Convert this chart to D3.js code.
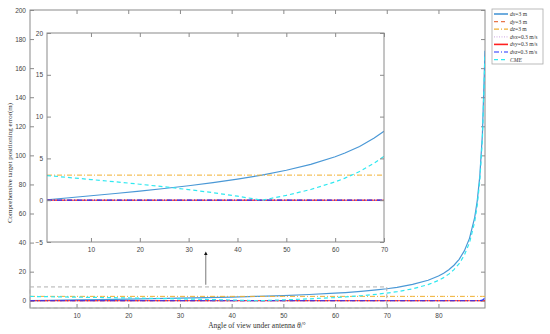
<!DOCTYPE html>
<html>
<head>
<meta charset="utf-8">
<script src="https://cdn.jsdelivr.net/npm/d3@7"></script>
<style>
  body { margin: 0; background: #fff; }
  svg text { font-family: "Liberation Sans", Arial, sans-serif; }
</style>
</head>
<body>
<div id="chart"></div>
<script>
var width  = 550;
var height = 334;

// ---------------- data ----------------
var angles = [1, 5, 10, 15, 20, 25, 30, 35, 40, 45, 50, 55, 60, 62, 65, 68, 70, 72, 75, 78, 80, 81, 82, 83, 84, 85, 86, 87, 87.5, 88, 88.5, 89];
var dxErr  = [0.05, 0.26, 0.53, 0.80, 1.09, 1.40, 1.73, 2.10, 2.52, 3.00, 3.58, 4.28, 5.20, 5.64, 6.43, 7.43, 8.24, 9.23, 11.2, 14.1, 17.0, 18.9, 21.3, 24.4, 28.5, 34.3, 42.9, 57.2, 68.7, 85.9, 114.6, 171.9];
var cmeErr = [2.95, 2.74, 2.47, 2.20, 1.91, 1.60, 1.27, 0.90, 0.48, 0.00, 0.58, 1.28, 2.20, 2.64, 3.43, 4.43, 5.24, 6.23, 8.2, 11.1, 14.0, 15.9, 18.3, 21.4, 25.5, 31.3, 39.9, 54.2, 65.7, 82.9, 111.6, 168.9];
var dyErr  = [0, 0, 0, 0, 0, 0, 0, 0, 0, 0, 0, 0, 0, 0, 0, 0, 0, 0, 0, 0, 0, 0, 0, 0, 0, 0, 0, 0, 0, 0, 0, 0];
var dzErr  = [3, 3, 3, 3, 3, 3, 3, 3, 3, 3, 3, 3, 3, 3, 3, 3, 3, 3, 3, 3, 3, 3, 3, 3, 3, 3, 3, 3, 3, 3, 3, 3];
var dvxErr = [0, 0, 0, 0, 0, 0, 0, 0, 0, 0, 0, 0, 0, 0, 0, 0, 0, 0, 0, 0, 0, 0, 0, 0, 0, 0, 0, 0, 0, 0, 0, 0];
var dvyErr = [0, 0, 0, 0, 0, 0, 0, 0, 0, 0, 0, 0, 0, 0, 0, 0, 0, 0, 0, 0, 0, 0, 0, 0, 0, 0, 0, 0, 0, 0, 0, 0];
var dvzErr = [0, 0, 0, 0, 0, 0, 0, 0, 0, 0, 0, 0, 0, 0, 0, 0, 0, 0, 0, 0, 0, 0, 0, 0, 0, 0, 0, 0, 0.05, 0.1, 0.4, 1.8];

var mainXTicks  = [10, 20, 30, 40, 50, 60, 70, 80];
var mainYTicks  = [0, 20, 40, 60, 80, 100, 120, 140, 160, 180, 200];
var insetXTicks = [10, 20, 30, 40, 50, 60, 70];
var insetYTicks = [-5, 0, 5, 10, 15, 20];
var zoomBox     = {x0: 1, x1: 70, y0: -5, y1: 9.5};

var series = [
  {v: "dx",  rest: "=3 m",     values: dxErr,  color: "#4a98d6", dash: null,      w: 1.2},
  {v: "dy",  rest: "=3 m",     values: dyErr,  color: "#e8764a", dash: "4,3",     w: 1.0},
  {v: "dz",  rest: "=3 m",     values: dzErr,  color: "#f0b030", dash: "5,2,1,2", w: 1.0},
  {v: "dvx", rest: "=0.3 m/s", values: dvxErr, color: "#d8b8e8", dash: "1,1.5",   w: 1.0},
  {v: "dvy", rest: "=0.3 m/s", values: dvyErr, color: "#ff2020", dash: null,      w: 1.0},
  {v: "dvz", rest: "=0.3 m/s", values: dvzErr, color: "#2030ff", dash: "5,2,1,2", w: 1.2},
  {v: "CME", rest: "",         values: cmeErr, color: "#30e8f0", dash: "4,3",     w: 1.2}
];

var axisColor  = "#8a8a8a";
var labelColor = "#444";

var svg = d3.select("#chart").append("svg")
    .attr("width", width)
    .attr("height", height);

// ---------------- main axes ----------------
var mLeft = 30, mRight = 485, mTop = 10, mBottom = 308;
var x = d3.scaleLinear().domain([1, 89]).range([mLeft, mRight]);
var y = d3.scaleLinear().domain([-5, 200]).range([mBottom, mTop]);

svg.append("clipPath").attr("id", "clipMain")
  .append("rect").attr("x", mLeft).attr("y", mTop)
    .attr("width", mRight - mLeft).attr("height", mBottom - mTop);

// box with inward ticks on all four sides, labels left and bottom
function drawBox(g, xs, ys, xt, yt, fs, yLabelOff, xLabelOff) {
  var r = xs.range(), d = ys.range();
  g.append("rect")
      .attr("x", r[0]).attr("y", d[1])
      .attr("width", r[1] - r[0]).attr("height", d[0] - d[1])
      .attr("fill", "none").attr("stroke", axisColor).attr("stroke-width", 1);
  g.append("g").attr("transform", "translate(0," + d[0] + ")")
      .call(d3.axisBottom(xs).tickValues(xt).tickSizeInner(-4).tickSizeOuter(0).tickPadding(xLabelOff));
  g.append("g").attr("transform", "translate(0," + d[1] + ")")
      .call(d3.axisTop(xs).tickValues(xt).tickSizeInner(-4).tickSizeOuter(0).tickFormat(""));
  g.append("g").attr("transform", "translate(" + r[0] + ",0)")
      .call(d3.axisLeft(ys).tickValues(yt).tickSizeInner(-4).tickSizeOuter(0).tickPadding(yLabelOff));
  g.append("g").attr("transform", "translate(" + r[1] + ",0)")
      .call(d3.axisRight(ys).tickValues(yt).tickSizeInner(-4).tickSizeOuter(0).tickFormat(""));
  g.selectAll(".domain").remove();
  g.selectAll(".tick line").attr("stroke", axisColor);
  g.selectAll(".tick text").attr("fill", labelColor).style("font-size", fs + "px");
}

var gMain = svg.append("g");
drawBox(gMain, x, y, mainXTicks, mainYTicks, 6.5, 4, 5);

function drawLines(g, xs, ys, clip, xmax) {
  var line = d3.line()
      .x(function(d) { return xs(d[0]); })
      .y(function(d) { return ys(d[1]); });
  var gl = g.append("g").attr("clip-path", "url(#" + clip + ")");
  series.forEach(function(s) {
    var pts = angles.map(function(a, i) { return [a, s.values[i]]; })
                    .filter(function(p) { return p[0] <= xmax; });
    gl.append("path")
        .datum(pts)
        .attr("d", line)
        .attr("fill", "none")
        .attr("stroke", s.color)
        .attr("stroke-width", s.w)
        .attr("stroke-dasharray", s.dash);
  });
}

drawLines(gMain, x, y, "clipMain", 89);

// zoom rectangle (dashed grey)
gMain.append("rect")
    .attr("x", x(zoomBox.x0)).attr("y", y(zoomBox.y1))
    .attr("width", x(zoomBox.x1) - x(zoomBox.x0))
    .attr("height", y(zoomBox.y0) - y(zoomBox.y1))
    .attr("fill", "none")
    .attr("stroke", "#b0b0b0")
    .attr("stroke-width", 1)
    .attr("stroke-dasharray", "4,3");

// arrow towards the inset
svg.append("defs").append("marker")
    .attr("id", "arrowHead")
    .attr("viewBox", "0 0 10 10").attr("refX", 5).attr("refY", 5)
    .attr("markerWidth", 5).attr("markerHeight", 6).attr("orient", "auto")
  .append("path").attr("d", "M0,0 L10,5 L0,10 z").attr("fill", "#111");
gMain.append("line")
    .attr("x1", x(35)).attr("y1", y(11))
    .attr("x2", x(35)).attr("y2", y(32.5))
    .attr("stroke", "#555").attr("stroke-width", 0.8)
    .attr("marker-end", "url(#arrowHead)");

// axis titles
svg.append("text")
    .attr("transform", "translate(12," + ((mTop + mBottom) / 2 + 4) + ") rotate(-90)")
    .attr("text-anchor", "middle")
    .style("font-family", "'Liberation Serif', serif")
    .style("font-size", "7px")
    .attr("fill", "#333")
    .text("Comprehensive target positioning error(m)");

var xt = svg.append("text")
    .attr("x", 257).attr("y", 328)
    .attr("text-anchor", "middle")
    .style("font-family", "'Liberation Serif', serif")
    .style("font-size", "7.5px")
    .attr("fill", "#333");
xt.append("tspan").text("Angle of view under antenna ");
xt.append("tspan").style("font-style", "italic").text("θ");
xt.append("tspan").text("/°");

// ---------------- inset ----------------
var iLeft = 47, iRight = 384, iTop = 33, iBottom = 242;
var xi = d3.scaleLinear().domain([1, 70]).range([iLeft, iRight]);
var yi = d3.scaleLinear().domain([-5, 20]).range([iBottom, iTop]);

svg.append("clipPath").attr("id", "clipInset")
  .append("rect").attr("x", iLeft).attr("y", iTop)
    .attr("width", iRight - iLeft).attr("height", iBottom - iTop);

var gInset = svg.append("g");
gInset.append("rect")
    .attr("x", iLeft).attr("y", iTop)
    .attr("width", iRight - iLeft).attr("height", iBottom - iTop)
    .attr("fill", "#fff");
drawLines(gInset, xi, yi, "clipInset", 70);
drawBox(gInset, xi, yi, insetXTicks, insetYTicks, 6.5, 4, 5);

// ---------------- legend ----------------
var lgX = 492, lgY = 9, lgW = 51, lgH = 55, rowH = 7.6;
var gLegend = svg.append("g");
gLegend.append("rect")
    .attr("x", lgX).attr("y", lgY).attr("width", lgW).attr("height", lgH)
    .attr("fill", "#fff").attr("stroke", "#aaa").attr("stroke-width", 0.8);

series.forEach(function(s, i) {
  var cy = lgY + 5 + i * rowH;
  gLegend.append("line")
      .attr("x1", lgX + 2).attr("x2", lgX + 16)
      .attr("y1", cy).attr("y2", cy)
      .attr("stroke", s.color)
      .attr("stroke-width", s.v === "dx" || s.v === "dvy" ? 1.6 : 1.2)
      .attr("stroke-dasharray", s.dash);
  var t = gLegend.append("text")
      .attr("x", lgX + 18).attr("y", cy + 2)
      .style("font-family", "'Liberation Serif', serif")
      .style("font-size", "5.6px")
      .attr("fill", "#333");
  t.append("tspan").style("font-style", "italic").text(s.v);
  t.append("tspan").text(s.rest);
});
</script>
</body>
</html>
